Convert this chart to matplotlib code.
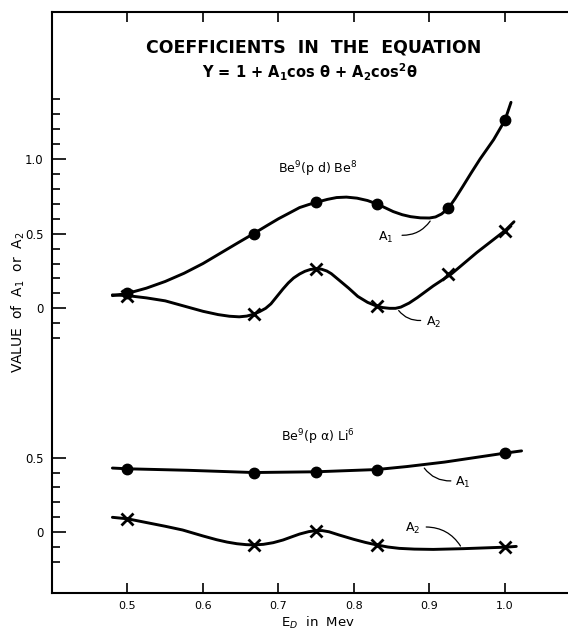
import numpy as np
import matplotlib.pyplot as plt

# measured points (E_p in Mev)
energy_pd = [0.5, 0.667, 0.75, 0.83, 0.925, 1.0]
pd_a1 = [0.10, 0.50, 0.71, 0.70, 0.67, 1.26]
pd_a2 = [0.085, -0.04, 0.265, 0.015, 0.23, 0.52]

energy_pa = [0.5, 0.667, 0.75, 0.83, 1.0]
pa_a1 = [0.425, 0.40, 0.405, 0.42, 0.53]
pa_a2 = [0.09, -0.085, 0.01, -0.085, -0.10]

# hand drawn curves
pd_a1_cx = [0.48, 0.50, 0.525, 0.55, 0.575, 0.60, 0.625, 0.645, 0.667, 0.685, 0.70, 0.715,
            0.728, 0.74, 0.75, 0.765, 0.777, 0.79, 0.804, 0.818, 0.83, 0.842, 0.852, 0.864,
            0.875, 0.888, 0.90, 0.908, 0.916, 0.925, 0.934, 0.944, 0.955, 0.967, 0.985, 1.0,
            1.008]
pd_a1_cy = [0.085, 0.10, 0.135, 0.18, 0.235, 0.30, 0.375, 0.435, 0.50, 0.555, 0.60, 0.64,
            0.675, 0.695, 0.71, 0.73, 0.742, 0.745, 0.738, 0.722, 0.70, 0.672, 0.648, 0.627,
            0.614, 0.606, 0.605, 0.612, 0.632, 0.67, 0.735, 0.815, 0.905, 1.0, 1.13, 1.26,
            1.38]

pd_a2_cx = [0.48, 0.50, 0.525, 0.55, 0.575, 0.60, 0.62, 0.635, 0.648, 0.658, 0.667, 0.675,
            0.683, 0.69, 0.698, 0.706, 0.713, 0.72, 0.728, 0.735, 0.742, 0.75, 0.757, 0.764,
            0.77, 0.78, 0.793, 0.805, 0.818, 0.83, 0.838, 0.847, 0.855, 0.862, 0.873, 0.884,
            0.905, 0.929, 0.963, 1.0, 1.012]
pd_a2_cy = [0.09, 0.085, 0.07, 0.05, 0.015, -0.02, -0.042, -0.053, -0.057, -0.052, -0.04,
            -0.022, 0.0, 0.03, 0.08, 0.13, 0.17, 0.203, 0.23, 0.248, 0.26, 0.265, 0.262, 0.25,
            0.232, 0.19, 0.135, 0.08, 0.04, 0.015, 0.005, 0.0, 0.0, 0.008, 0.035, 0.072,
            0.15, 0.23, 0.375, 0.52, 0.58]

pa_a1_cx = [0.48, 0.50, 0.58, 0.667, 0.75, 0.83, 0.87, 0.92, 0.96, 1.0, 1.022]
pa_a1_cy = [0.43, 0.425, 0.415, 0.40, 0.405, 0.42, 0.44, 0.47, 0.50, 0.53, 0.545]

pa_a2_cx = [0.48, 0.50, 0.525, 0.55, 0.573, 0.60, 0.618, 0.632, 0.645, 0.657, 0.667, 0.68,
            0.693, 0.706, 0.718, 0.728, 0.74, 0.75, 0.758, 0.767, 0.78, 0.80, 0.815, 0.83,
            0.845, 0.86, 0.88, 0.905, 0.945, 1.0, 1.015]
pa_a2_cy = [0.10, 0.09, 0.065, 0.04, 0.015, -0.025, -0.05, -0.066, -0.077, -0.083, -0.085,
            -0.081, -0.07, -0.052, -0.03, -0.012, 0.004, 0.011, 0.011, 0.003, -0.018, -0.048,
            -0.068, -0.085, -0.099, -0.108, -0.113, -0.115, -0.11, -0.10, -0.095]

offset = 1.5  # upper reaction drawn on a shifted zero

fig = plt.figure(figsize=(5.68, 6.35), dpi=100)
ax = fig.add_axes([52/568, 42/635, 1 - 52/568, 581/635])
ax.set_xlim(0.40, 1.0835)
ax.set_ylim(-0.407, 3.485)

lw = 2.1
up = lambda v: np.array(v) + offset
for cx, cy in [(pd_a1_cx, up(pd_a1_cy)), (pd_a2_cx, up(pd_a2_cy)),
               (pa_a1_cx, pa_a1_cy), (pa_a2_cx, pa_a2_cy)]:
    ax.plot(cx, cy, color='black', lw=lw, solid_joinstyle='round', solid_capstyle='round')

ax.plot(energy_pd, up(pd_a1), 'o', color='black', ms=7.5)
ax.plot(energy_pd, up(pd_a2), 'x', color='black', ms=9, mew=2)
ax.plot(energy_pa, pa_a1, 'o', color='black', ms=7.5)
ax.plot(energy_pa, pa_a2, 'x', color='black', ms=9, mew=2)

# axes and ticks
for s in ['left', 'top', 'bottom']:
    ax.spines[s].set_linewidth(1.5)
ax.spines['right'].set_visible(False)

ax.set_xticks([0.5, 0.6, 0.7, 0.8, 0.9, 1.0])
ax.set_xticklabels(['0.5', '0.6', '0.7', '0.8', '0.9', '1.0'])
ax.set_yticks([0, 0.5, 1.5, 2.0, 2.5])
ax.set_yticklabels(['0', '0.5', '0', '0.5', '1.0'])
ax.set_yticks([-0.2, -0.1, 0.1, 0.2, 0.3, 0.4, 1.3, 1.4, 1.6, 1.7, 1.8, 1.9,
               2.1, 2.2, 2.3, 2.4, 2.6, 2.7, 2.8, 2.9], minor=True)
ax.tick_params(axis='x', direction='in', top=True, length=7, width=1.2, pad=6, labelsize=8)
ax.tick_params(axis='y', which='major', direction='in', length=10, width=1.2, pad=6, labelsize=8.5)
ax.tick_params(axis='y', which='minor', direction='in', length=6, width=1.2)

# titles and labels
ax.text(0.747, 3.25, 'COEFFICIENTS  IN  THE  EQUATION', ha='center', va='center',
        fontsize=12.5, fontweight='bold')
ax.text(0.742, 3.08, r'Y = 1 + A$_\mathbf{1}$cos θ + A$_\mathbf{2}$cos$^\mathbf{2}$θ',
        ha='center', va='center', fontsize=10.5, fontweight='bold')
ax.text(0.752, 2.43, r'Be$^9$(p d) Be$^8$', ha='center', va='center', fontsize=9)
ax.text(0.752, 0.64, r'Be$^9$(p α) Li$^6$', ha='center', va='center', fontsize=9)

fig.text(18/568, 1 - 302/635, r'VALUE  of  A$_1$  or  A$_2$', rotation=90, ha='center',
         va='center', fontsize=10)
fig.text(318/568, 1 - 623/635, r'E$_D$  in  Mev', ha='center', va='center', fontsize=9.5)

# curve tags with leader lines
ax.text(0.842, 1.977, r'A$_1$', ha='center', va='center', fontsize=9)
ax.annotate('', xy=(0.903, 2.10), xytext=(0.860, 1.99),
            arrowprops=dict(arrowstyle='-', lw=0.9, connectionstyle='arc3,rad=0.3'))
ax.text(0.906, 1.405, r'A$_2$', ha='center', va='center', fontsize=9)
ax.annotate('', xy=(0.857, 1.50), xytext=(0.892, 1.42),
            arrowprops=dict(arrowstyle='-', lw=0.9, connectionstyle='arc3,rad=-0.3'))
ax.text(0.944, 0.336, r'A$_1$', ha='center', va='center', fontsize=9)
ax.annotate('', xy=(0.891, 0.445), xytext=(0.932, 0.345),
            arrowprops=dict(arrowstyle='-', lw=0.9, connectionstyle='arc3,rad=-0.3'))
ax.text(0.878, 0.027, r'A$_2$', ha='center', va='center', fontsize=9)
ax.annotate('', xy=(0.943, -0.108), xytext=(0.892, 0.035),
            arrowprops=dict(arrowstyle='-', lw=0.9, connectionstyle='arc3,rad=-0.3'))

fig.savefig('out.png', dpi=100)
